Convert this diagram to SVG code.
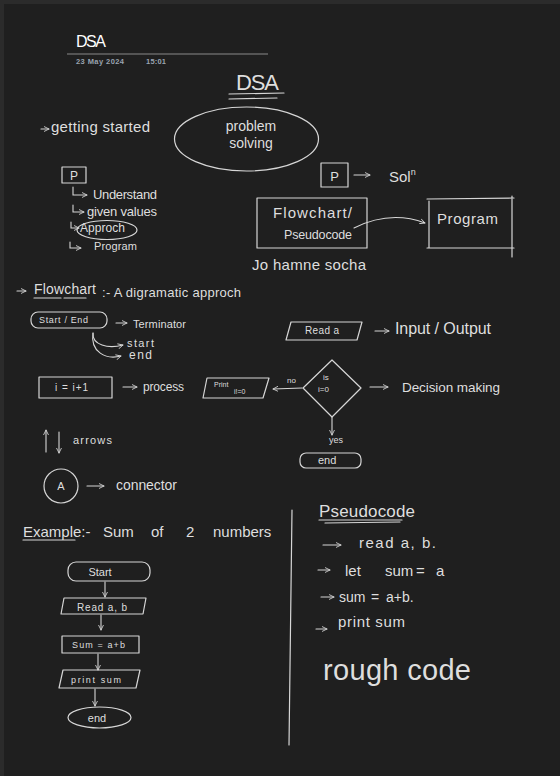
<svg xmlns="http://www.w3.org/2000/svg" width="560" height="776" viewBox="0 0 560 776">
<defs>
<marker id="ah" viewBox="0 0 10 10" refX="9" refY="5" markerWidth="6" markerHeight="6" orient="auto-start-reverse" markerUnits="userSpaceOnUse">
<path d="M1,1 L9,5 L1,9" fill="none" stroke="#d8d8d8" stroke-width="1.4" stroke-linecap="round" stroke-linejoin="round"/>
</marker>
</defs>
<style>
.t{font-family:"Liberation Sans","DejaVu Sans",sans-serif;fill:#dedede}
.m{text-anchor:middle}
.s{fill:none;stroke:#d6d6d6;stroke-width:1.2;stroke-linecap:round;stroke-linejoin:round}
.c{fill:none;stroke:#d6d6d6;stroke-width:1.1;stroke-linecap:round;marker-end:url(#ah)}
</style>
<rect x="0" y="0" width="560" height="776" fill="#1f1f1f"/>
<rect x="0" y="0" width="560" height="4" fill="#2b2b2b"/>
<rect x="0" y="0" width="4" height="776" fill="#2b2b2b"/>

<g id="header">
<text class="t" x="76" y="47" font-size="16" style="fill:#ffffff" textLength="30">DSA</text>
<line x1="67" y1="54" x2="268" y2="54" stroke="#8a8a8a" stroke-width="1"/>
<text class="t" x="76" y="64" font-size="7.5" font-weight="bold" style="fill:#9aa3b0" textLength="48">23 May 2024</text>
<text class="t" x="146" y="64" font-size="7.5" font-weight="bold" style="fill:#9aa3b0" textLength="20">15:01</text>
</g>

<g id="title">
<text class="t" x="236" y="90" font-size="22" textLength="43">DSA</text>
<path class="s" d="M229,94 L284,93 M229,99 L277,98"/>
</g>

<g id="problem-solving">
<ellipse class="s" cx="246.5" cy="139" rx="72" ry="32"/>
<text class="t m" x="251" y="131" font-size="14">problem</text>
<text class="t m" x="251" y="148" font-size="14">solving</text>
</g>

<g id="getting-started">
<text class="t" x="51" y="132" font-size="15" textLength="99">getting started</text>
</g>

<g id="p-list">
<rect class="s" x="62" y="167" width="24" height="16"/>
<text class="t m" x="74" y="180" font-size="12">P</text>
<text class="t" x="93" y="199" font-size="13" textLength="64">Understand</text>
<text class="t" x="87" y="216" font-size="13" textLength="70">given values</text>
<ellipse class="s" cx="107" cy="230" rx="30" ry="9.5"/>
<text class="t" x="80" y="232" font-size="12" textLength="45">Approch</text>
<text class="t" x="94" y="250" font-size="11" textLength="43">Program</text>
</g>

<g id="p-solution">
<rect class="s" x="321" y="163" width="27" height="24"/>
<text class="t m" x="334.5" y="181" font-size="13">P</text>
<text class="t" x="389" y="182" font-size="15">Sol<tspan dy="-7" font-size="9">n</tspan></text>
</g>

<g id="flowchart-pseudocode">
<rect class="s" x="257" y="198" width="110" height="50"/>
<text class="t" x="273" y="218" font-size="15" textLength="79">Flowchart/</text>
<text class="t" x="284" y="239" font-size="12.5" textLength="68">Pseudocode</text>
</g>

<g id="program">
<path class="s" d="M427,199 L514,198 M429,201 L429,248 M512,196 L512,257 M427,248 L514,248"/>
<text class="t" x="437" y="224" font-size="15" textLength="61">Program</text>
</g>

<g id="jo-hamne-socha">
<text class="t" x="252" y="270" font-size="15" textLength="114">Jo hamne socha</text>
</g>

<g id="flowchart-heading">
<text class="t" x="34" y="294" font-size="14" textLength="62">Flowchart</text>
<path class="s" d="M34,298 L61,298 M64,298 L86,298"/>
<text class="t" x="102" y="297" font-size="13" textLength="139">:- A digramatic approch</text>
</g>

<g id="terminator">
<rect class="s" x="31" y="312" width="76" height="16" rx="7"/>
<text class="t" x="39" y="323" font-size="9" textLength="49">Start / End</text>
<text class="t" x="133" y="328" font-size="11" textLength="53">Terminator</text>
<text class="t" x="127" y="347" font-size="11" textLength="27">start</text>
<text class="t" x="129" y="359" font-size="12" textLength="23">end</text>
</g>

<g id="input-output">
<polygon class="s" points="291,322 362,322 357,340 286,340"/>
<text class="t" x="305" y="334" font-size="10" textLength="34">Read a</text>
<text class="t" x="395" y="334" font-size="16" textLength="96">Input / Output</text>
</g>

<g id="process">
<rect class="s" x="39" y="377" width="73" height="21"/>
<text class="t" x="55" y="391" font-size="10" textLength="33">i = i+1</text>
<text class="t" x="143" y="391" font-size="12" textLength="41">process</text>
</g>

<g id="print-node">
<polygon class="s" points="207,378 269,378 263,398 203,398"/>
<text class="t" x="214" y="387" font-size="7">Print</text>
<text class="t" x="234" y="394" font-size="7">i!=0</text>
</g>

<g id="decision">
<polygon class="s" points="332,360 361,388 332,417 303,388"/>
<text class="t" x="323" y="380" font-size="8">is</text>
<text class="t" x="318" y="392" font-size="8">i=0</text>
<text class="t" x="402" y="392" font-size="13.5" textLength="98">Decision making</text>
</g>

<g id="end-node">
<rect class="s" x="300" y="453" width="61" height="15" rx="6"/>
<text class="t" x="318" y="464" font-size="11">end</text>
</g>

<g id="arrows-legend">
<text class="t" x="73" y="444" font-size="11" textLength="39">arrows</text>
</g>

<g id="connector-legend">
<circle class="s" cx="61" cy="486" r="17"/>
<text class="t m" x="61" y="490" font-size="11">A</text>
<text class="t" x="116" y="490" font-size="14" textLength="61">connector</text>
</g>

<g id="example-heading">
<text class="t" y="537" font-size="15"><tspan x="23">Example:-</tspan><tspan x="103">Sum</tspan><tspan x="151">of</tspan><tspan x="186">2</tspan><tspan x="213">numbers</tspan></text>
<path class="s" d="M23,540 L75,540"/>
</g>

<g id="divider">
<path class="s" d="M292,510 L289,745"/>
</g>

<g id="ex-start">
<rect class="s" x="68" y="562" width="82" height="19" rx="8"/>
<text class="t m" x="100" y="576" font-size="11">Start</text>
</g>
<g id="ex-read">
<polygon class="s" points="64,598 146,598 143,614 61,614"/>
<text class="t" x="77" y="611" font-size="10" textLength="50">Read a, b</text>
</g>
<g id="ex-sum">
<rect class="s" x="62" y="636" width="77" height="17"/>
<text class="t" x="72" y="648" font-size="9" textLength="53">Sum = a+b</text>
</g>
<g id="ex-print">
<polygon class="s" points="63,670 140,670 136,688 59,688"/>
<text class="t" x="71" y="683" font-size="9" textLength="50">print sum</text>
</g>
<g id="ex-end">
<ellipse class="s" cx="99.5" cy="717.5" rx="31.5" ry="10.5"/>
<text class="t m" x="97" y="722" font-size="11">end</text>
</g>

<g id="pseudocode">
<text class="t" x="319" y="517" font-size="17" textLength="96">Pseudocode</text>
<path class="s" d="M319,520 L402,520 M325,523 L400,522"/>
<text class="t" x="359" y="548" font-size="15" textLength="77">read a, b.</text>
<text class="t" y="576" font-size="15"><tspan x="345">let</tspan><tspan x="385">sum</tspan><tspan x="416">=</tspan><tspan x="436">a</tspan></text>
<text class="t" y="602" font-size="14"><tspan x="339">sum</tspan><tspan x="371">=</tspan><tspan x="386">a+b.</tspan></text>
<text class="t" x="338" y="627" font-size="15" textLength="67">print sum</text>
<text class="t" x="323" y="680" font-size="29" textLength="148">rough code</text>
</g>

<g id="connectors">
<path class="c" d="M41,129 L49,129"/>
<path class="c" d="M17,291 L26,291"/>
<path class="c" d="M73,187 L73,195 L87,195"/>
<path class="c" d="M73,205 L73,212 L84,212"/>
<path class="c" d="M71,222 L71,228 L79,228"/>
<path class="c" d="M70,242 L70,248 L81,248"/>
<path class="c" d="M354,175 L370,175"/>
<path class="c" d="M354,228 Q390,210 425,223"/>
<path class="c" d="M116,323 L127,323"/>
<path class="c" d="M93,333 C92,345 108,349 123,345"/>
<path class="c" d="M93,333 C90,352 106,360 121,356"/>
<path class="c" d="M375,331 L389,331"/>
<path class="c" d="M123,387 L137,387"/>
<path class="c" d="M302,388 L273,389"/>
<text class="t" x="287" y="383" font-size="8">no</text>
<path class="c" d="M370,387 L388,387"/>
<path class="c" d="M332,417 L332,435"/>
<text class="t" x="329" y="443" font-size="9">yes</text>
<path class="c" d="M46,452 L46,430"/>
<path class="c" d="M59,432 L59,453"/>
<path class="c" d="M87,486 L104,486"/>
<path class="c" d="M105,582 L105,597"/>
<path class="c" d="M101,615 L101,630"/>
<path class="c" d="M98,654 L98,670"/>
<path class="c" d="M95,689 L95,706"/>
<path class="c" d="M323,545 L341,545"/>
<path class="c" d="M318,570 L330,570"/>
<path class="c" d="M321,597 L334,597"/>
<path class="c" d="M316,629 L327,629"/>
</g>
</svg>
